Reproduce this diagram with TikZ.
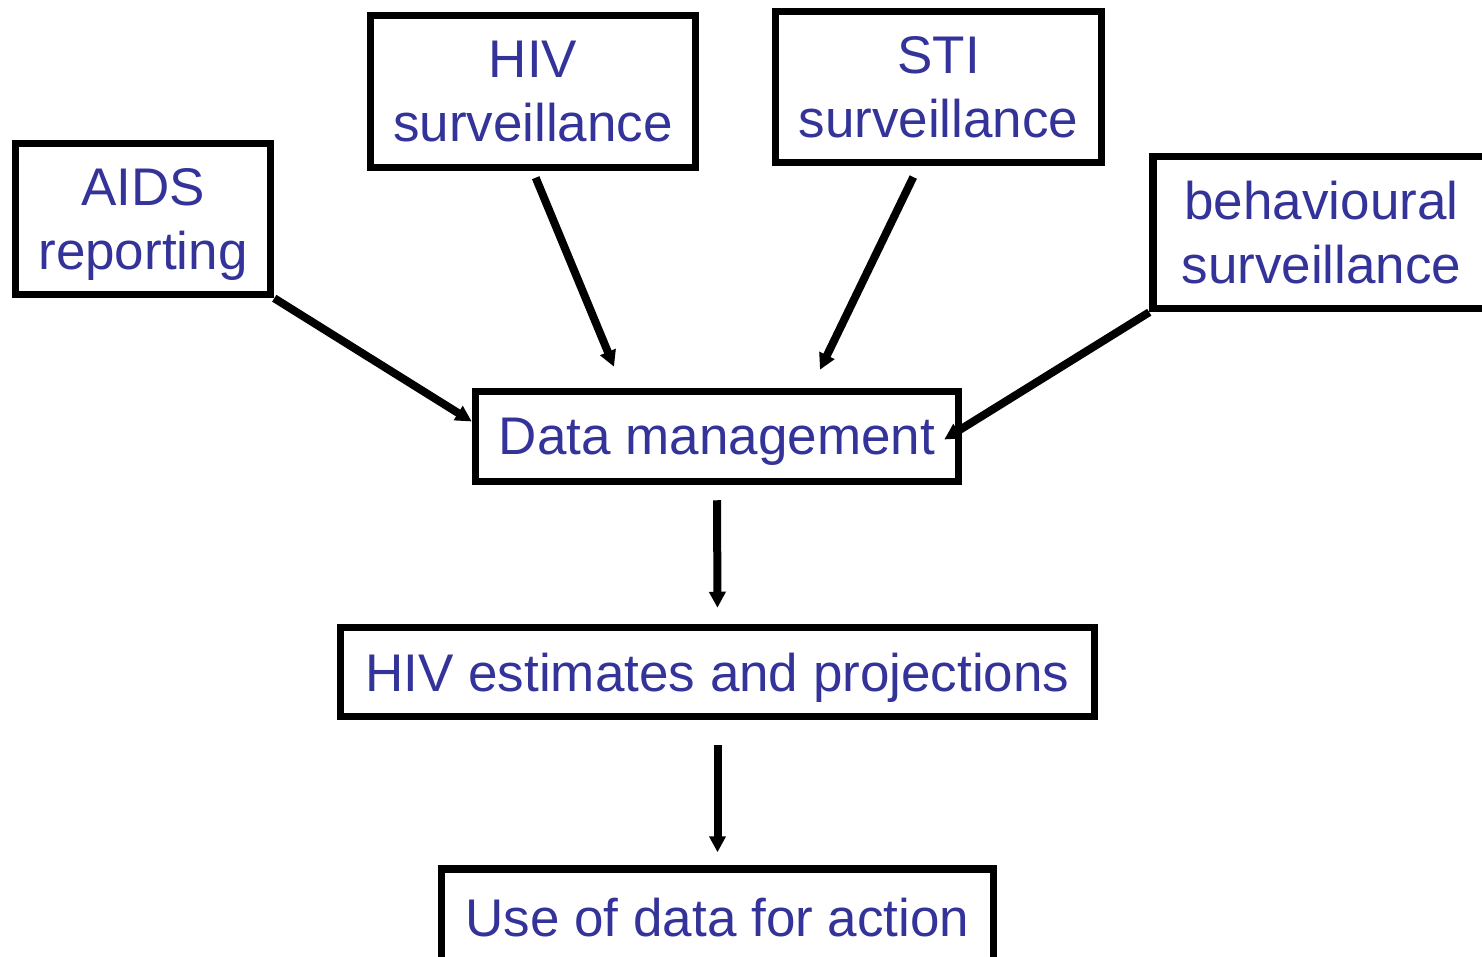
\documentclass[tikz,border=0pt]{standalone}
\usepackage{fontspec}
\setmainfont{Liberation Sans}
\usetikzlibrary{arrows.meta}
\definecolor{labelblue}{RGB}{51,51,153}

\begin{document}
\begin{tikzpicture}[x=1pt, y=-1pt,
    box/.style={draw, line width=7.5pt, fill=white, align=center, inner sep=0pt,
      text depth=0pt, text=labelblue, font=\fontsize{53}{64}\selectfont},
    flow/.style={line width=8pt, -{Triangle[length=16pt,width=16pt]}}]
  \useasboundingbox (0,0) rectangle (1482,957);

  % sources feeding the data
  \node[box, minimum width=255pt, minimum height=151pt] (aids) at (143,219) {AIDS\\reporting};
  \node[box, minimum width=325pt, minimum height=152pt] (hiv) at (533,91.5) {HIV\\surveillance};
  \node[box, minimum width=326pt, minimum height=151pt] (sti) at (938.5,87) {STI\\surveillance};
  \node[box, minimum width=337pt, minimum height=152pt] (behav) at (1321.5,232.5) {behavioural\\surveillance};

  % processing chain
  \node[box, minimum width=483pt, minimum height=90pt] (data) at (717,436.5) {Data management};
  \node[box, minimum width=754pt, minimum height=89pt] (estim) at (717.5,672) {HIV estimates and projections};
  \node[box, minimum width=552pt, minimum height=97pt] (use) at (717.5,917.5) {Use of data for action};

  \draw[flow] (aids.south east) -- ([yshift=15pt]data.west);
  \draw[flow, shorten <=7pt] (hiv.south) -- ([xshift=-103pt,yshift=21pt]data.north);
  \draw[flow, shorten <=12pt] ([xshift=-20pt]sti.south) -- ([xshift=103pt,yshift=18pt]data.north);
  \draw[flow] (behav.south west) -- ([xshift=-18pt,yshift=-3pt]data.east);
  \draw[flow, shorten <=15pt, shorten >=16pt] (data.south) -- (estim.north);
  \draw[flow, shorten <=25pt, shorten >=13pt] (estim.south) -- (use.north);
\end{tikzpicture}
\end{document}
